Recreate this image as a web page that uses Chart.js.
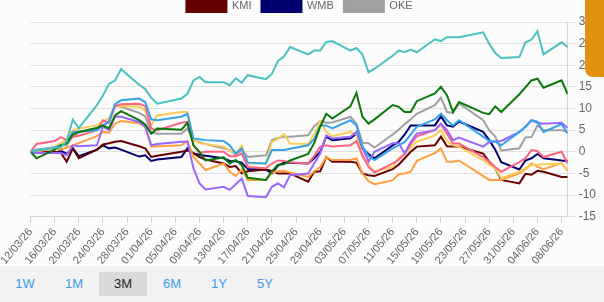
<!DOCTYPE html>
<html>
<head>
<meta charset="utf-8">
<script src="https://cdn.jsdelivr.net/npm/chart.js@4.4.1/dist/chart.umd.min.js"></script>
<style>
    body { margin: 0; width: 604px; height: 302px; overflow: hidden; position: relative; background: #fcfcfc; font-family: Arial, "Liberation Sans", sans-serif; }
    #chart-box { position: absolute; left: 0; top: -10px; width: 604px; height: 280px; }
    #range-bar { position: absolute; left: 0; top: 266px; width: 604px; height: 36px; background: #f2f2f2; }
    .range-btn { position: absolute; top: 6px; width: 48px; height: 24px; line-height: 24px; text-align: center; font-size: 13px; color: #3d9be9; }
    .range-btn.active { background: #dadada; color: #222; }
    #side-tab { position: absolute; left: 585px; top: 0; width: 19px; height: 77px; background: #e2900f; border-bottom-left-radius: 8px; }
</style>
</head>
<body>
<div id="chart-box"><canvas id="perf"></canvas></div>
<div id="range-bar"></div>
<div id="side-tab"></div>
<script>
const tickLabels = ['12/03/26', '16/03/26', '20/03/26', '24/03/26', '28/03/26', '01/04/26', '05/04/26', '09/04/26',
    '13/04/26', '17/04/26', '21/04/26', '25/04/26', '29/04/26', '03/05/26', '07/05/26', '11/05/26', '15/05/26',
    '19/05/26', '23/05/26', '27/05/26', '31/05/26', '04/06/26', '08/06/26'];

// days since 12/03/26 (trading days only)
const tradingDays = [0, 1, 4, 5, 6, 7, 8, 11, 12, 13, 14, 15, 18, 19, 20, 21, 25, 26, 27, 28, 29, 32, 33, 34, 35, 36,
    39, 40, 41, 42, 43, 46, 47, 48, 49, 50, 53, 54, 55, 56, 57, 60, 61, 62, 63, 64, 67, 68, 69, 70, 71, 75, 76, 77, 78,
    81, 82, 83, 84, 85, 88, 89];

const tealSeries = [0, 0.5, 1, 1, 2.5, 7.4, 5.5, 10.8, 13, 15.7, 16.5, 19.1, 15.5, 14.5, 12.5, 11.1, 12.3, 13.4, 16.5, 17.3, 16.1,
    16.1, 15.4, 17, 16, 17.7, 16.8, 18, 21, 22, 24.2, 22.5, 23.4, 23.4, 25.4, 25.6, 23.4, 24, 22.5, 18.4, 19.2,
    22.2, 23.4, 23, 23.6, 23, 26, 25.6, 26.5, 26.5, 26.5, 27.6, 25, 22.8, 21.7, 21.9, 25.3, 25.9, 27.9, 22.5, 25.3, 24.2];
const greenSeries = [0, -1.5, 0.5, 1.5, 2, 4, 4.6, 5.5, 6.1, 5.4, 8.4, 9.4, 7.3, 6.3, 4.2, 5.4, 5.1, 6.7, 1.5, 0, -2,
    -1.3, -2.7, -1.9, -3.1, -6, -6.5, -4.5, -3, -2.9, -2, -0.5, 2, 5.8, 8.8, 7.7, 10.5, 13.6, 8.1, 6.5, 7.5,
    10.8, 10.4, 9.2, 9.2, 11.7, 13.5, 15, 13.1, 9.2, 11.5, 9, 8.7, 10.5, 9.2, 13.3, 14.9, 16.5, 16.9, 14.8, 16.5, 13.3];
const blueSeries = [0, 0.3, 1, 1.5, 2, 4.6, 4.7, 5, 6.1, 7, 11, 11.9, 12.3, 11.5, 7.5, 7.3, 8.1, 8.8, 3.1, 2.9, 2.7,
    2.5, 1.5, -0.4, 0.8, -2.5, -2.7, 0.4, 0.4, 0.4, 0.7, 1.5, 3, 6.1, 6.1, 5.4, 7.3, 6.1, 1.2, -1, -1.9,
    0.8, 1.5, 2.3, 4, 5.8, 7.5, 8.8, 7.3, 6.1, 7.3, 3.5, 2.5, 2.4, 1.5, 4.6, 5.7, 7.3, 7, 4.6, 6.4, 4.2];
const purpleSeries = [0, -0.3, -0.3, -0.3, -0.8, 1.5, 1.3, 1.5, 5.8, 5, 8.1, 8.1, 6.9, 5.8, 1.5, 1.8, 2.3, 2.3, -3.8, -7.3, -8.7,
    -8.1, -8.8, -7.5, -6.2, -10.2, -10.5, -8.1, -7.3, -8.2, -5.4, -5, -2.7, -0.4, 3.8, 3.1, 3.5, 4.6, 1, -2.3, 0,
    2, 2, -0.4, 2.3, 4.2, 5, 6.5, 5, 2.7, 3.3, 1.2, 2.3, 2.3, 2.5, 4.6, 5.8, 7.3, 6.7, 6.5, 6.7, 5.5];
const pinkSeries = [0, 1.8, 2.5, 3.4, 2.7, 3.5, 3.7, 5, 7.3, 6.7, 10.5, 11, 11.1, 10.6, 5.4, 5, 6.7, 6.9, 1.5, -0.2, 0,
    0, -1, -1, -0.4, -3.5, -3.8, -2.7, -2, -2.1, -2.4, -2.7, -1, 1.2, 1.5, 1.2, 1.5, 2.5, -0.8, -3.5, -4.8,
    -2.7, -1.8, -0.5, 1.8, 3.6, 5, 6.4, 4.2, 1.9, 1.9, -1.2, -2.3, -3.5, -4.6, -2.4, -1.5, 0.4, 0.2, -1.2, 0, -2.7];
const yellowSeries = [0, 0.3, 1.2, 2, 3, 5, 5.4, 6.1, 6.9, 7.9, 10.4, 10.6, 10.4, 9.6, 6.1, 8.4, 9.2, 9.2, 2.7, 2, 1.8,
    1.2, 0.4, -0.5, 1.5, -2.7, -2.7, 2.3, 3, 4.1, 1.9, 1.8, 4.2, 7.1, 4.6, 3.6, 4.6, 4, -1.2, -3, -4.6,
    -3.5, -1.5, -0.5, 1, 2.3, 3.8, 5, 2.5, 1.5, 1.2, -1.9, -3, -3.8, -6.1, -4.6, -3.8, -3.1, -3, -2.9, -2.7, -4.2];
const orangeSeries = [0, 0, 0.8, 0.5, 1, 1.5, 2, 3.6, 4.6, 4.4, 6.5, 7.1, 6.6, 5.8, 1.2, 1.3, 1.5, 2.5, -1.2, -2.7, -4.2,
    -2.7, -4.6, -5.6, -4.1, -6.5, -6.5, -4.8, -4.5, -4.4, -4.8, -5.8, -4.5, -3.5, -1.2, -1.9, -1.9, -1.5, -5, -6.8, -7.5,
    -6.6, -5.2, -5, -4.6, -2.1, -0.3, 0.8, -2.3, -2.3, -2, -5.6, -6.5, -6.5, -6.5, -5, -4, -2.7, -3.5, -4, -2.6, -4.4];
const kmiSeries = [0, 0, 0, -0.2, -2.3, 0.8, -1.5, 0.5, 1.7, 2, 2.3, 2.5, 1.3, 0.8, -1.2, -0.9, 0, 0.3, -0.3, -1.2, -1.8,
    -2.7, -3.5, -3.3, -5, -4.5, -4.1, -4.4, -5, -5, -5, -6.9, -4.6, -4.5, -1.2, -2.3, -2.3, -2.5, -5, -5.4, -5.6,
    -4, -3, -1.5, 0, 1.2, 1.5, 3.5, 1.3, 1.2, 1.2, -0.4, -2.3, -3.8, -6.5, -7.3, -5.1, -5.3, -4.4, -4.6, -5.8, -5.8];
const wmbSeries = [0, -0.2, -0.3, 0.3, -0.5, 0.8, -1, 0.5, 1.5, 0.8, 1, 0.5, -1.1, -0.8, -2.1, -1.8, -1.2, 0.8, -0.4, -0.7, -0.9,
    -1.5, -2.1, -2.2, -2.5, -4, -4.1, -5, -3.2, -2.5, -2.5, -2.7, -1.5, 0, 3.5, 2.7, 3.1, 4.2, 0.8, -0.5, -1.5,
    1.5, 2.3, 4, 6.1, 6.1, 6.1, 8.2, 6.1, 5.8, 7, 4.6, 2.7, 0.5, -2.4, -4.1, -2, -1.5, -0.5, -1.5, -2, -2.1];
const okeSeries = [0, 0.5, 1, 1.5, 1.5, 3.5, 4.5, 5.5, 6, 7, 10.8, 10.4, 9, 8.2, 4.5, 4.2, 4.2, 5.4, 2.7, 2.2, 1.8,
    0.8, 0.4, -0.8, 0.5, -1.2, -0.8, 2.7, 3.2, 3.5, 3.5, 3.8, 5.9, 7.1, 6.7, 6.8, 8.1, 6.5, 2.1, 2, 1,
    4, 5.1, 6.4, 7.5, 8.8, 10.8, 12.5, 9.2, 9, 11.2, 7.3, 5, 3.5, 0.3, 0.8, 3.3, 3.4, 6.1, 5, 5, 4.6];

const rangeButtons = ['1W', '1M', '3M', '6M', '1Y', '5Y'];
const rangeLefts = [1, 50, 99, 148, 195, 241];

function toPoints(values) {
    return tradingDays.map((d, i) => ({ x: d, y: values[i] }));
}

function makeLine(label, values, color) {
    return {
        label: label,
        data: toPoints(values),
        borderColor: color,
        backgroundColor: color,
        borderWidth: 2,
        pointRadius: 0,
        tension: 0,
        fill: false
    };
}

// buttons under the chart
let bar = document.querySelector('#range-bar');
rangeButtons.forEach((name, i) => {
    let b = document.createElement('div');
    b.className = 'range-btn' + (name == '3M' ? ' active' : '');
    b.style.left = rangeLefts[i] + 'px';
    b.textContent = name;
    bar.appendChild(b);
});

Chart.defaults.font.family = 'Arial, "Liberation Sans", sans-serif';
Chart.defaults.color = '#666';

new Chart(document.getElementById('perf'), {
    type: 'line',
    data: {
        datasets: [
            makeLine('Series 1', tealSeries, '#4bc0c0'),
            makeLine('Series 2', greenSeries, '#0a780a'),
            makeLine('Series 3', blueSeries, '#36a2eb'),
            makeLine('Series 4', purpleSeries, '#9966ff'),
            makeLine('Series 5', pinkSeries, '#ff6384'),
            makeLine('Series 6', yellowSeries, '#ffcd56'),
            makeLine('Series 7', orangeSeries, '#ff9f40'),
            makeLine('KMI', kmiSeries, '#660000'),
            makeLine('WMB', wmbSeries, '#000070'),
            makeLine('OKE', okeSeries, '#a0a0a0')
        ]
    },
    options: {
        responsive: true,
        maintainAspectRatio: false,
        animation: false,
        layout: { padding: { right: 5 } },
        plugins: {
            tooltip: { enabled: false },
            legend: {
                position: 'top',
                labels: {
                    boxWidth: 40,
                    boxHeight: 12,
                    padding: 10,
                    font: { size: 11 },
                    filter: item => item.datasetIndex >= 7
                }
            }
        },
        scales: {
            x: {
                type: 'linear',
                min: 0,
                max: 89,
                grid: { drawOnChartArea: false, tickLength: 6, color: '#cfcfcf' },
                border: { color: '#d6d6d6' },
                ticks: {
                    stepSize: 4,
                    includeBounds: false,
                    autoSkip: false,
                    minRotation: 50,
                    maxRotation: 50,
                    font: { size: 11 },
                    callback: v => tickLabels[v / 4]
                }
            },
            y: {
                position: 'right',
                min: -15,
                max: 30,
                grid: { color: '#e0e0e0' },
                border: { color: '#d6d6d6' },
                ticks: { stepSize: 5, font: { size: 12 } }
            }
        }
    }
});
</script>
</body>
</html>
